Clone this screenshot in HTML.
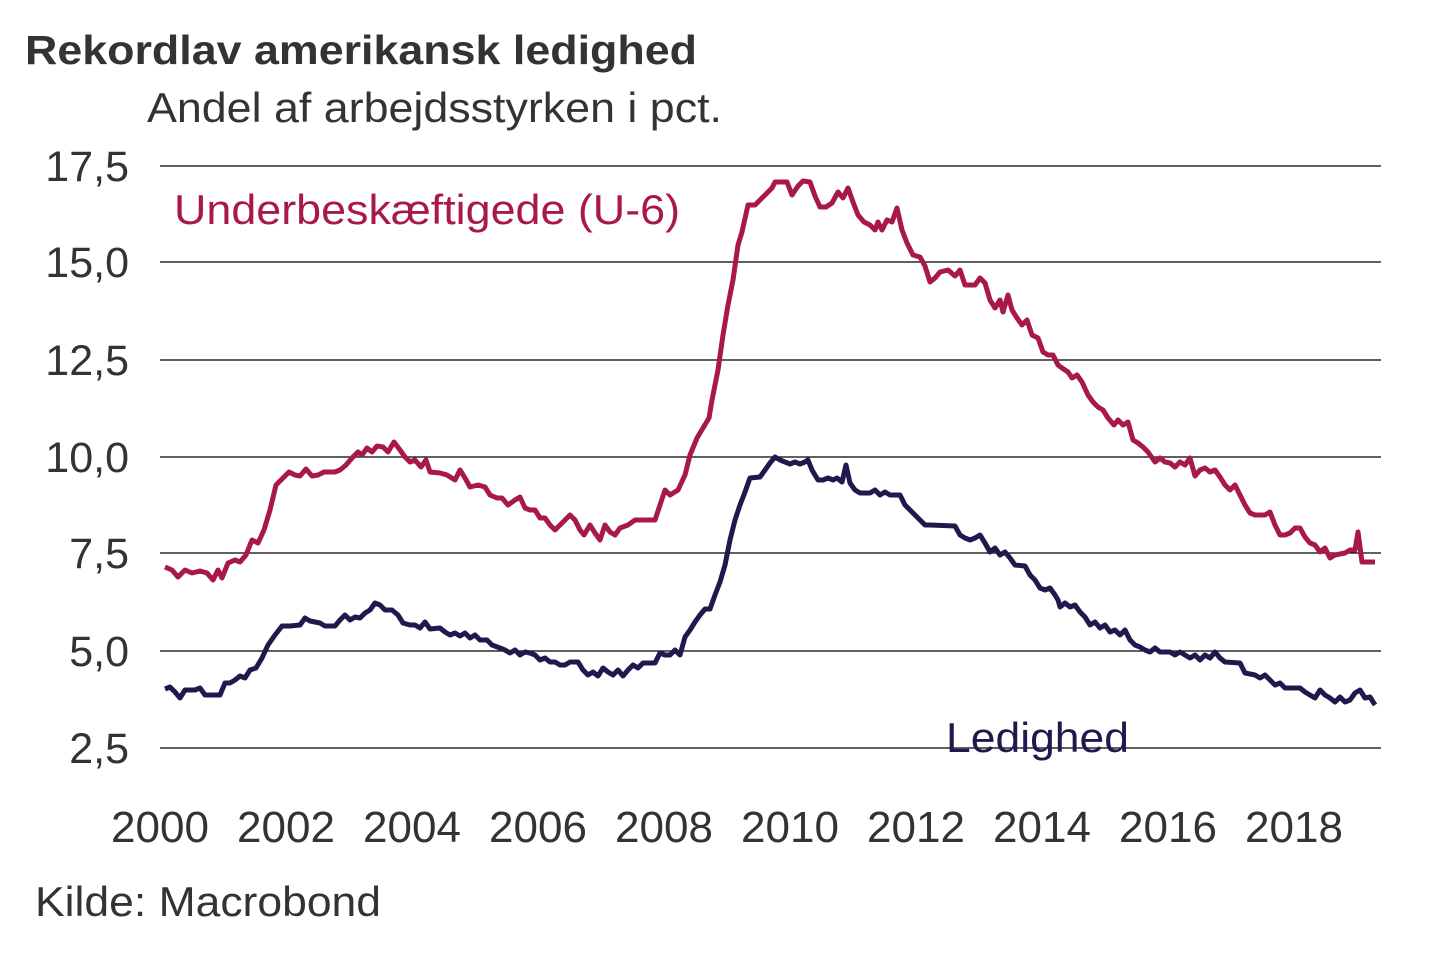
<!DOCTYPE html>
<html><head><meta charset="utf-8"><style>
body{margin:0;background:#fff}
svg text{font-family:"Liberation Sans",Arial,sans-serif}
</style></head><body>
<svg width="1440" height="960" xmlns="http://www.w3.org/2000/svg">
<rect width="1440" height="960" fill="#fff"/>
<text x="25" y="64" font-size="41" font-weight="bold" fill="#333" textLength="672" lengthAdjust="spacingAndGlyphs">Rekordlav amerikansk ledighed</text>
<text x="147" y="122" font-size="42" fill="#333" textLength="575" lengthAdjust="spacingAndGlyphs">Andel af arbejdsstyrken i pct.</text>
<g stroke="#000" stroke-width="1.3">
<line x1="160" y1="166" x2="1381" y2="166"/>
<line x1="160" y1="262" x2="1381" y2="262"/>
<line x1="160" y1="360" x2="1381" y2="360"/>
<line x1="160" y1="457" x2="1381" y2="457"/>
<line x1="160" y1="553" x2="1381" y2="553"/>
<line x1="160" y1="651" x2="1381" y2="651"/>
<line x1="160" y1="748" x2="1381" y2="748"/>
</g>
<g font-size="43" fill="#333" text-anchor="end">
<text x="129" y="181">17,5</text>
<text x="129" y="277">15,0</text>
<text x="129" y="375">12,5</text>
<text x="129" y="472">10,0</text>
<text x="129" y="568">7,5</text>
<text x="129" y="666">5,0</text>
<text x="129" y="763">2,5</text>
</g>
<g font-size="44" fill="#333" text-anchor="middle">
<text x="160" y="842">2000</text><text x="286" y="842">2002</text><text x="412" y="842">2004</text><text x="538" y="842">2006</text><text x="664" y="842">2008</text><text x="790" y="842">2010</text><text x="916" y="842">2012</text><text x="1042" y="842">2014</text><text x="1168" y="842">2016</text><text x="1294" y="842">2018</text>
</g>
<text x="35" y="916" font-size="42" fill="#333" textLength="346" lengthAdjust="spacingAndGlyphs">Kilde: Macrobond</text>
<text x="174" y="224" font-size="42" fill="#a8184a" textLength="506" lengthAdjust="spacingAndGlyphs">Underbeskæftigede (U-6)</text>
<text x="946" y="752" font-size="42" fill="#1f1a4e" textLength="183" lengthAdjust="spacingAndGlyphs">Ledighed</text>
<polyline fill="none" stroke="#a8184a" stroke-width="5" stroke-linejoin="round" points="165,567 172,570 178,577 185,570 192,573 200,571 207,573 213,580 218,570 222,578 228,563 235,560 240,562 246,555 252,540 258,543 264,530 270,510 276,485 283,478 289,472 295,475 300,476 306,469 312,476 318,475 324,472 335,472 340,470 346,465 352,458 358,452 362,455 367,448 372,452 377,446 383,447 388,452 394,442 400,450 405,457 410,462 415,460 421,467 426,460 430,472 440,473 447,475 455,480 460,470 465,478 470,487 478,485 485,487 490,495 497,498 502,498 508,505 515,500 520,497 525,508 530,510 535,510 540,518 545,518 550,525 555,530 560,525 565,520 570,515 575,520 580,530 584,535 590,525 595,533 600,540 605,525 610,532 615,535 620,528 628,525 635,520 655,520 660,505 665,490 670,495 678,490 685,475 690,455 697,438 703,428 709,418 712,400 718,370 723,335 728,305 733,280 738,245 742,232 748,205 755,205 760,200 765,195 772,188 775,182 787,182 792,195 798,186 803,181 810,182 815,196 820,207 826,207 832,203 838,192 843,198 848,188 853,202 858,215 864,222 870,225 875,230 878,222 882,230 887,220 892,222 897,208 902,230 907,243 913,255 920,257 925,266 930,282 935,278 940,272 948,270 955,276 960,270 965,285 975,285 980,278 985,283 990,300 995,308 1000,300 1003,312 1008,295 1012,310 1017,318 1022,325 1027,320 1032,335 1038,338 1043,352 1048,355 1053,355 1058,365 1062,368 1068,372 1072,378 1077,375 1082,382 1088,395 1093,402 1098,407 1103,410 1108,418 1114,425 1118,420 1123,425 1128,422 1133,440 1138,443 1143,447 1148,452 1155,462 1160,458 1165,462 1170,463 1175,467 1180,462 1185,465 1190,458 1195,476 1200,470 1205,468 1210,472 1215,470 1220,477 1225,485 1230,490 1235,485 1240,495 1245,505 1250,513 1255,515 1265,515 1270,512 1275,525 1280,535 1285,535 1290,533 1295,528 1300,528 1305,537 1310,543 1315,545 1320,552 1325,548 1330,558 1335,555 1345,553 1350,550 1355,550 1358,532 1362,562 1375,562"/>
<polyline fill="none" stroke="#1f1a4e" stroke-width="5" stroke-linejoin="round" points="165,689 170,687 175,692 180,698 185,690 195,690 200,688 205,695 220,695 225,683 230,683 235,680 240,676 245,678 250,670 256,668 262,658 268,645 275,635 282,626 290,626 300,625 305,618 310,621 320,623 325,626 335,626 340,620 345,615 350,620 355,617 360,618 365,613 370,610 375,603 380,605 385,610 392,610 398,615 403,623 410,625 415,625 420,628 425,622 430,629 440,628 445,632 450,635 455,633 460,636 465,633 470,638 475,635 480,640 487,640 492,645 500,648 505,650 510,653 515,650 520,655 525,652 530,653 535,655 540,660 545,658 550,662 555,662 560,665 565,665 570,662 578,662 583,670 588,675 593,672 598,676 603,668 608,672 613,675 618,670 623,676 628,670 633,665 638,668 643,663 655,663 660,653 665,655 670,655 675,650 680,655 685,637 690,630 695,622 700,615 705,609 710,609 715,595 720,582 725,565 730,540 735,520 740,505 745,492 750,478 760,477 765,470 770,463 775,457 780,460 785,462 790,464 795,462 800,464 805,462 808,460 812,470 818,480 823,480 828,478 833,480 837,478 842,482 846,465 850,483 855,490 860,493 870,493 875,490 880,495 885,492 890,495 900,495 905,505 910,510 915,515 920,520 925,525 930,525 955,526 960,535 965,538 970,540 975,538 980,535 985,543 990,552 995,548 1000,555 1005,552 1010,558 1015,565 1025,566 1030,575 1035,580 1040,588 1045,590 1050,588 1055,595 1058,600 1060,607 1065,603 1070,607 1075,605 1080,612 1085,617 1090,625 1095,622 1100,628 1105,625 1110,632 1115,630 1120,635 1125,630 1130,640 1135,645 1140,647 1145,650 1150,652 1155,648 1160,652 1170,652 1175,655 1180,652 1185,655 1190,658 1195,655 1200,660 1205,655 1210,658 1215,652 1220,658 1225,662 1240,663 1245,673 1255,675 1260,678 1265,675 1270,680 1275,685 1280,683 1285,688 1300,688 1305,692 1310,695 1315,698 1320,690 1325,695 1330,698 1335,702 1340,697 1345,702 1350,700 1355,693 1360,690 1365,698 1370,697 1375,705"/>
</svg>
</body></html>
